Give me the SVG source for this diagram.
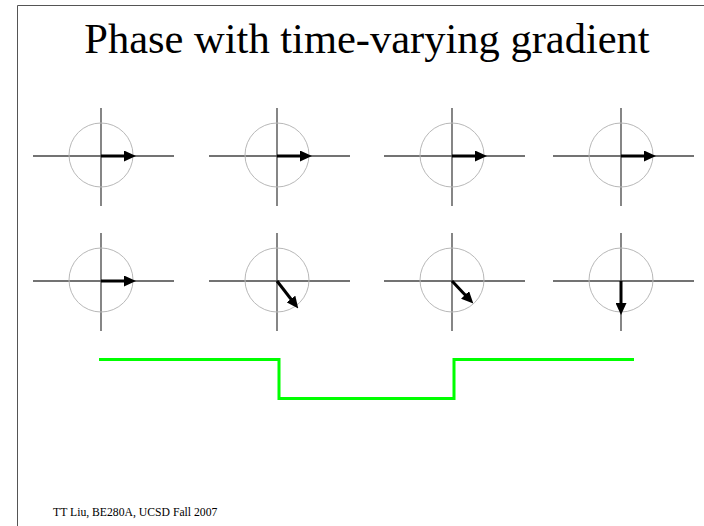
<svg xmlns="http://www.w3.org/2000/svg" width="704" height="526" viewBox="0 0 704 526">
<defs>
<style>
.ax{stroke:#444;stroke-width:1.3;fill:none}
.cir{stroke:#b8b8b8;stroke-width:1;fill:none}
.vec{stroke:#000;stroke-width:3;fill:none;marker-end:url(#ah)}
.frame{stroke:#555;stroke-width:1;fill:none}
.grad{stroke:#00ff00;stroke-width:3;fill:none;stroke-linejoin:miter}
.serif{font-family:'Liberation Serif','Times New Roman','DejaVu Serif',serif;fill:#000}
</style>
<marker id="ah" markerUnits="userSpaceOnUse" markerWidth="12" markerHeight="11" refX="5" refY="5.5" orient="auto" viewBox="0 0 12 11">
<path d="M0,0 L12,5.5 L0,11 Z" fill="#000"/>
</marker>
</defs>
<rect width="704" height="526" fill="#fff"/>
<path class="frame" d="M17.5,526 V5.5 H704"/>
<text class="serif" x="367" y="53" font-size="42.5" text-anchor="middle">Phase with time-varying gradient</text>
<text class="serif" x="53" y="516" font-size="11.7">TT Liu, BE280A, UCSD Fall 2007</text>

<g id="r1c1">
<line class="ax" x1="33" y1="156" x2="174" y2="156"/><line class="ax" x1="101" y1="108" x2="101" y2="206"/>
<circle class="cir" cx="101" cy="155" r="32"/>
<line class="vec" x1="101" y1="156" x2="129" y2="156"/>
</g>
<g id="r1c2">
<line class="ax" x1="209" y1="156" x2="350" y2="156"/><line class="ax" x1="277" y1="108" x2="277" y2="206"/>
<circle class="cir" cx="277" cy="155" r="32"/>
<line class="vec" x1="277" y1="156" x2="305" y2="156"/>
</g>
<g id="r1c3">
<line class="ax" x1="384" y1="156" x2="525" y2="156"/><line class="ax" x1="452" y1="108" x2="452" y2="206"/>
<circle class="cir" cx="452" cy="155" r="32"/>
<line class="vec" x1="452" y1="156" x2="480" y2="156"/>
</g>
<g id="r1c4">
<line class="ax" x1="553" y1="156" x2="694" y2="156"/><line class="ax" x1="621" y1="108" x2="621" y2="206"/>
<circle class="cir" cx="621" cy="155" r="32"/>
<line class="vec" x1="621" y1="156" x2="649" y2="156"/>
</g>

<g id="r2c1">
<line class="ax" x1="33" y1="281" x2="174" y2="281"/><line class="ax" x1="101" y1="233" x2="101" y2="331"/>
<circle class="cir" cx="101" cy="280" r="32"/>
<line class="vec" x1="101" y1="281" x2="129" y2="281"/>
</g>
<g id="r2c2">
<line class="ax" x1="209" y1="281" x2="350" y2="281"/><line class="ax" x1="277" y1="233" x2="277" y2="331"/>
<circle class="cir" cx="277" cy="280" r="32"/>
<line class="vec" x1="277" y1="281" x2="294" y2="303"/>
</g>
<g id="r2c3">
<line class="ax" x1="384" y1="281" x2="525" y2="281"/><line class="ax" x1="452" y1="233" x2="452" y2="331"/>
<circle class="cir" cx="452" cy="280" r="32"/>
<line class="vec" x1="452" y1="281" x2="468.5" y2="298.5"/>
</g>
<g id="r2c4">
<line class="ax" x1="553" y1="281" x2="694" y2="281"/><line class="ax" x1="621" y1="233" x2="621" y2="331"/>
<circle class="cir" cx="621" cy="280" r="32"/>
<line class="vec" x1="621" y1="281" x2="621" y2="308"/>
</g>

<g id="connectors">
<path class="grad" d="M99,359.5 H279 V398.5 H454 V359.5 H634"/>
</g>
</svg>
